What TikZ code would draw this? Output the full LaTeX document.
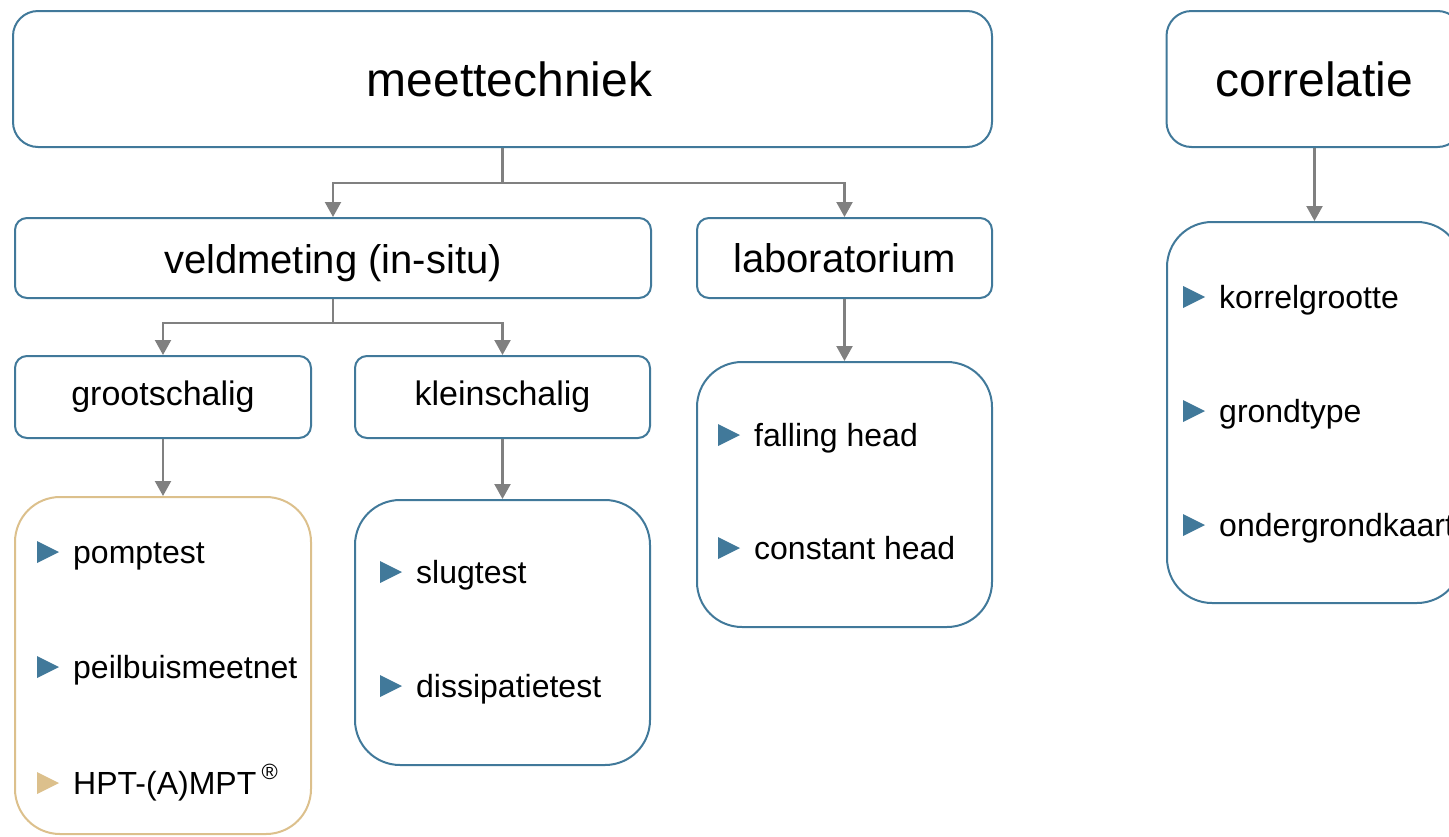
\documentclass[tikz,border=0pt]{standalone}
\usepackage{fontspec}
\setmainfont{Liberation Sans}
\usetikzlibrary{arrows.meta}
\definecolor{bl}{HTML}{41799A}
\definecolor{gd}{HTML}{DCC08C}
\definecolor{gr}{HTML}{808080}
\tikzset{
  box/.style={draw=bl, line width=2pt, fill=white, inner sep=0pt, text=black, align=center},
  titlebox/.style={box, rounded corners=25pt},
  midbox/.style={box, rounded corners=12pt, text depth=0pt},
  listbox/.style={box, rounded corners=45pt},
  line/.style={draw=gr, line width=2.2pt},
  arr/.style={line, -{Triangle[width=16pt,length=15pt]}},
  itemtext/.style={anchor=base west, inner sep=0pt, font=\fontsize{32}{38}\selectfont},
}
\newcommand{\itm}[5]{%
  \node[itemtext] (#1) at (#2,#3) {#4};
  \fill[#5] ([xshift=-36pt]#1.base west) -- ++(0,-22) -- ++(22,11) -- cycle;
}
\begin{document}
\begin{tikzpicture}[x=1pt,y=-1pt]
\useasboundingbox (0,0) rectangle (1449,836);
\clip (0,0) rectangle (1449,836);
% title row
\node[titlebox, minimum width=979pt, minimum height=136pt, font=\fontsize{48}{58}\selectfont] (meet) at (502.5,79) {\hspace*{14pt}meettechniek};
\node[titlebox, minimum width=296pt, minimum height=136pt, font=\fontsize{48}{58}\selectfont] (corr) at (1314.5,79) {correlatie};
% second row
\node[midbox, text height=30pt, minimum width=636pt, minimum height=80pt, font=\fontsize{40}{48}\selectfont] (vel) at (333,258) {veldmeting (in-situ)};
\node[midbox, text height=28pt, minimum width=295pt, minimum height=80pt, font=\fontsize{40}{48}\selectfont] (lab) at (844.5,258) {laboratorium};
% third row
\node[midbox, text height=16pt, minimum width=296pt, minimum height=82pt, font=\fontsize{34}{40}\selectfont] (groot) at (163,397) {grootschalig};
\node[midbox, text height=16pt, minimum width=295pt, minimum height=82pt, font=\fontsize{34}{40}\selectfont] (klein) at (502.5,397) {kleinschalig};
% list boxes
\node[listbox, draw=gd, minimum width=296pt, minimum height=337pt] (glist) at (163,665.5) {};
\node[listbox, minimum width=295pt, minimum height=265pt] (klist) at (502.5,632.5) {};
\node[listbox, minimum width=295pt, minimum height=265pt] (llist) at (844.5,494.5) {};
\node[listbox, minimum width=295pt, minimum height=381pt] (clist) at (1314.5,412.5) {};
% items
\itm{i1}{73}{563}{pomptest}{bl}
\itm{i2}{73}{678}{peilbuismeetnet}{bl}
\itm{i3}{73}{794}{HPT-(A)MPT\,\raisebox{0.45em}{\fontsize{22}{22}\selectfont ®}}{gd}
\itm{i4}{416}{583}{slugtest}{bl}
\itm{i5}{416}{697}{dissipatietest}{bl}
\itm{i6}{754}{446}{falling head}{bl}
\itm{i7}{754}{559}{constant head}{bl}
\itm{i8}{1219}{308}{korrelgrootte}{bl}
\itm{i9}{1219}{422}{grondtype}{bl}
\itm{i10}{1219}{536}{ondergrondkaart}{bl}
% connectors
\coordinate (j1) at (502.5,183);
\draw[line] (meet.south) -- (j1);
\draw[arr] (j1) -| (vel.north);
\draw[arr] (j1) -| (lab.north);
\coordinate (j2) at (333,323);
\draw[line] (vel.south) -- (j2);
\draw[arr] (j2) -| (groot.north);
\draw[arr] (j2) -| (klein.north);
\draw[arr] (groot.south) -- (glist.north);
\draw[arr] (klein.south) -- (klist.north);
\draw[arr] (lab.south) -- (llist.north);
\draw[arr] (corr.south) -- (clist.north);
\end{tikzpicture}
\end{document}
